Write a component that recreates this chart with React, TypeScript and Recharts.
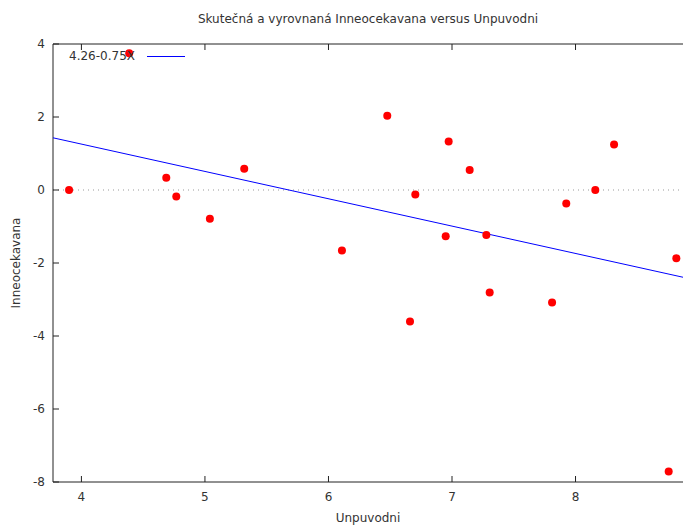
import { ScatterChart, Scatter, XAxis, YAxis, ReferenceLine, Label } from 'recharts';

const unpuvodni = [3.9, 4.387, 4.687, 4.768, 5.04, 5.318, 6.109, 6.476, 6.66, 6.703, 6.949, 6.973, 7.143, 7.278, 7.305, 7.81, 7.925, 8.16, 8.312, 8.754, 8.816];
const inneocekavana = [0.0, 3.75, 0.337, -0.175, -0.786, 0.584, -1.66, 2.035, -3.6, -0.12, -1.27, 1.33, 0.548, -1.23, -2.81, -3.08, -0.37, 0.0, 1.25, -7.71, -1.87];

// fitted line 4.26-0.75X, end points at the edges of the x range
const fitX = [3.77, 8.87];
const fitY = [1.43, -2.39];

const xTicks = [4, 5, 6, 7, 8];
const yTicks = [-8, -6, -4, -2, 0, 2, 4];

const points = unpuvodni.map((x, i) => ({ x, y: inneocekavana[i] }));
const fitLine = fitX.map((x, i) => ({ x, y: fitY[i] }));

const FONT = '"DejaVu Sans", sans-serif';
const AXIS = '#222';
const TEXT = '#333';

function BottomTick({ x, y, payload }: any) {
  return (
    <g>
      <line x1={x} y1={y} x2={x} y2={y - 6} stroke={AXIS} />
      <text x={x} y={y + 19} textAnchor="middle" fontSize={12} fill={TEXT} fontFamily={FONT}>
        {payload.value}
      </text>
    </g>
  );
}

function TopTick({ x, y }: any) {
  return <line x1={x} y1={y} x2={x} y2={y + 6} stroke={AXIS} />;
}

function LeftTick({ x, y, payload }: any) {
  return (
    <g>
      <line x1={x} y1={y} x2={x + 6} y2={y} stroke={AXIS} />
      <text x={x - 8} y={y + 4} textAnchor="end" fontSize={12} fill={TEXT} fontFamily={FONT}>
        {payload.value}
      </text>
    </g>
  );
}

export default function App() {
  return (
    <div style={{ position: 'absolute', left: 0, top: 0, width: 683, height: 526, background: '#fff', fontFamily: FONT }}>
      <div style={{ position: 'absolute', left: 0, width: 736, top: 12, textAlign: 'center', fontSize: 12, color: TEXT }}>
        Skutečná a vyrovnaná Inneocekavana versus Unpuvodni
      </div>
      <ScatterChart width={683} height={526} margin={{ top: 14, right: 0, bottom: 0, left: 0 }}>
        <XAxis
          type="number"
          dataKey="x"
          domain={[3.77, 8.87]}
          ticks={xTicks}
          allowDataOverflow
          height={44}
          tickSize={0}
          tickMargin={0}
          tickLine={false}
          tick={<BottomTick />}
          axisLine={{ stroke: AXIS }}
        >
          <Label value="Unpuvodni" position="insideBottom" offset={4} fontSize={12} fill={TEXT} fontFamily={FONT} />
        </XAxis>
        <XAxis
          xAxisId="top"
          orientation="top"
          type="number"
          dataKey="x"
          domain={[3.77, 8.87]}
          ticks={xTicks}
          allowDataOverflow
          height={30}
          tickSize={0}
          tickMargin={0}
          tickLine={false}
          tick={<TopTick />}
          axisLine={{ stroke: AXIS }}
        />
        <YAxis
          type="number"
          dataKey="y"
          domain={[-8, 4]}
          ticks={yTicks}
          allowDataOverflow
          width={53}
          tickSize={0}
          tickMargin={0}
          tickLine={false}
          tick={<LeftTick />}
          axisLine={{ stroke: AXIS }}
        >
          <Label value="Inneocekavana" angle={-90} position="insideLeft" offset={16} fontSize={12} fill={TEXT} fontFamily={FONT} style={{ textAnchor: 'middle' }} />
        </YAxis>
        <ReferenceLine y={0} stroke="#999" strokeDasharray="1 4" />
        <Scatter data={fitLine} line={{ stroke: '#0000ff', strokeWidth: 1 }} shape={() => null} isAnimationActive={false} />
        <Scatter data={points} fill="#ff0000" isAnimationActive={false} shape={(p: any) => <circle cx={p.cx} cy={p.cy} r={4} fill="#ff0000" />} />
      </ScatterChart>
      <div style={{ position: 'absolute', left: 69, top: 49, fontSize: 12, color: TEXT }}>4.26-0.75X</div>
      <div style={{ position: 'absolute', left: 147, top: 56, width: 38, height: 1, background: '#0000ff' }} />
    </div>
  );
}
